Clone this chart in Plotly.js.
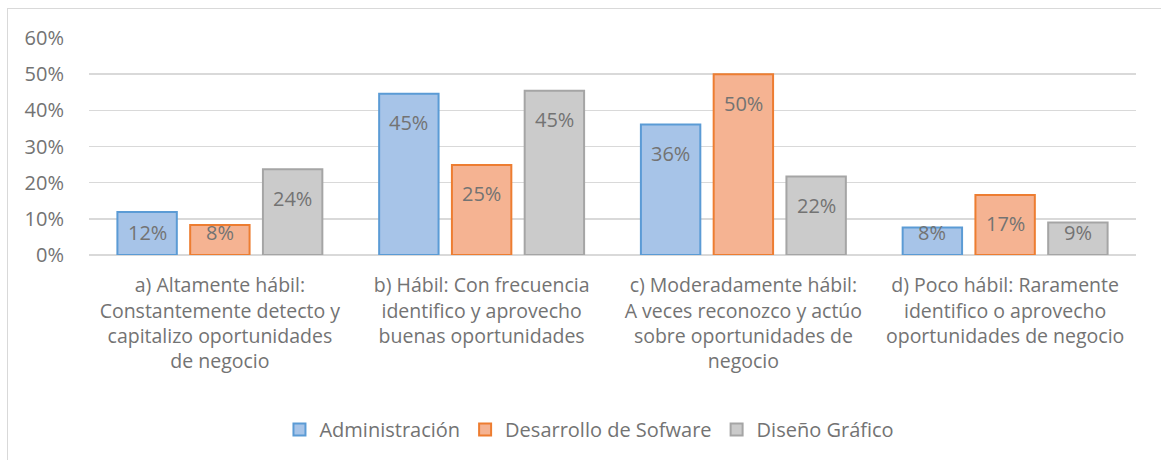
<!DOCTYPE html>
<html>
<head>
<meta charset="utf-8">
<script src="https://cdn.plot.ly/plotly-3.0.1.min.js"></script>
<style>
  html, body { margin: 0; padding: 0; background: #ffffff; }
  #wrap { position: relative; width: 1161px; height: 460px; overflow: hidden; }
  #chart { position: absolute; left: 0; top: 0; width: 1161px; height: 460px; }
  #frame { position: absolute; left: 7px; top: 8px; width: 1200px; height: 500px;
           border-left: 1.5px solid #d9d9d9; border-top: 1.5px solid #d9d9d9; pointer-events: none; }
</style>
</head>
<body>
<div id="wrap">
  <div id="chart"></div>
  <div id="frame"></div>
</div>
<script>
const categories = [
  "a) Altamente hábil:<br>Constantemente detecto y<br>capitalizo oportunidades<br>de negocio",
  "b) Hábil: Con frecuencia<br>identifico y aprovecho<br>buenas oportunidades",
  "c) Moderadamente hábil:<br>A veces reconozco y actúo<br>sobre oportunidades de<br>negocio",
  "d) Poco hábil: Raramente<br>identifico o aprovecho<br>oportunidades de negocio"
];
const seriesNames = ["Administración", "Desarrollo de Sofware", "Diseño Gráfico"];
const administracion = [0.119, 0.446, 0.361, 0.076];
const desarrollo = [0.083, 0.249, 0.500, 0.166];
const diseno = [0.237, 0.454, 0.217, 0.090];

const seriesValues = [administracion, desarrollo, diseno];
const fills = ["#a7c4e8", "#f5b392", "#cbcbcb"];
const borders = ["#5b9bd5", "#ed7d31", "#a5a5a5"];
const centers = [-0.278, 0, 0.278];
const barWidth = 0.227;

const FONT = "Open Sans, Noto Sans, sans-serif";
const TEXT = "#737373";
const margin = {l: 89, r: 25, t: 38, b: 204};
const H = 460, W = 1161;
const plotH = H - margin.t - margin.b;
const yMax = 0.6;
const pxPerUnit = plotH / yMax;

const traces = seriesValues.map((vals, s) => ({
  type: "bar",
  name: seriesNames[s],
  x: categories,
  y: vals,
  width: barWidth,
  offset: centers[s] - barWidth / 2,
  marker: {color: fills[s], line: {color: borders[s], width: 2}},
  hoverinfo: "skip"
}));

const annotations = [];
seriesValues.forEach((vals, s) => {
  vals.forEach((v, i) => {
    const barPx = v * pxPerUnit;
    const shift = Math.min(29, barPx - 23);
    annotations.push({
      x: i + centers[s], y: v, xref: "x", yref: "y",
      text: Math.round(v * 100) + "%",
      showarrow: false, yanchor: "middle", yshift: -shift,
      font: {family: FONT, size: 20, color: TEXT}
    });
  });
});

const layout = {
  width: W, height: H,
  margin: margin,
  paper_bgcolor: "#ffffff",
  plot_bgcolor: "#ffffff",
  font: {family: FONT, size: 20, color: TEXT},
  barmode: "group",
  showlegend: true,
  xaxis: {
    type: "category",
    tickfont: {family: FONT, size: 19.5, color: TEXT},
    ticks: "outside", ticklen: 13, tickcolor: "rgba(0,0,0,0)",
    showgrid: false, showline: false, zeroline: false,
    fixedrange: true
  },
  yaxis: {
    range: [0, yMax], dtick: 0.1, tickformat: ".0%",
    tickfont: {family: FONT, size: 20, color: TEXT},
    ticks: "outside", ticklen: 20, tickcolor: "rgba(0,0,0,0)",
    gridcolor: "#d9d9d9", gridwidth: 1.5,
    zeroline: true, zerolinecolor: "#d9d9d9", zerolinewidth: 1.5,
    showline: false, fixedrange: true
  },
  legend: {
    orientation: "h", x: 0.478, xanchor: "center", y: -0.796, yanchor: "middle",
    font: {family: FONT, size: 20, color: TEXT},
    bgcolor: "rgba(0,0,0,0)"
  },
  annotations: annotations
};

Plotly.newPlot("chart", traces, layout, {displayModeBar: false, staticPlot: true});
</script>
</body>
</html>
